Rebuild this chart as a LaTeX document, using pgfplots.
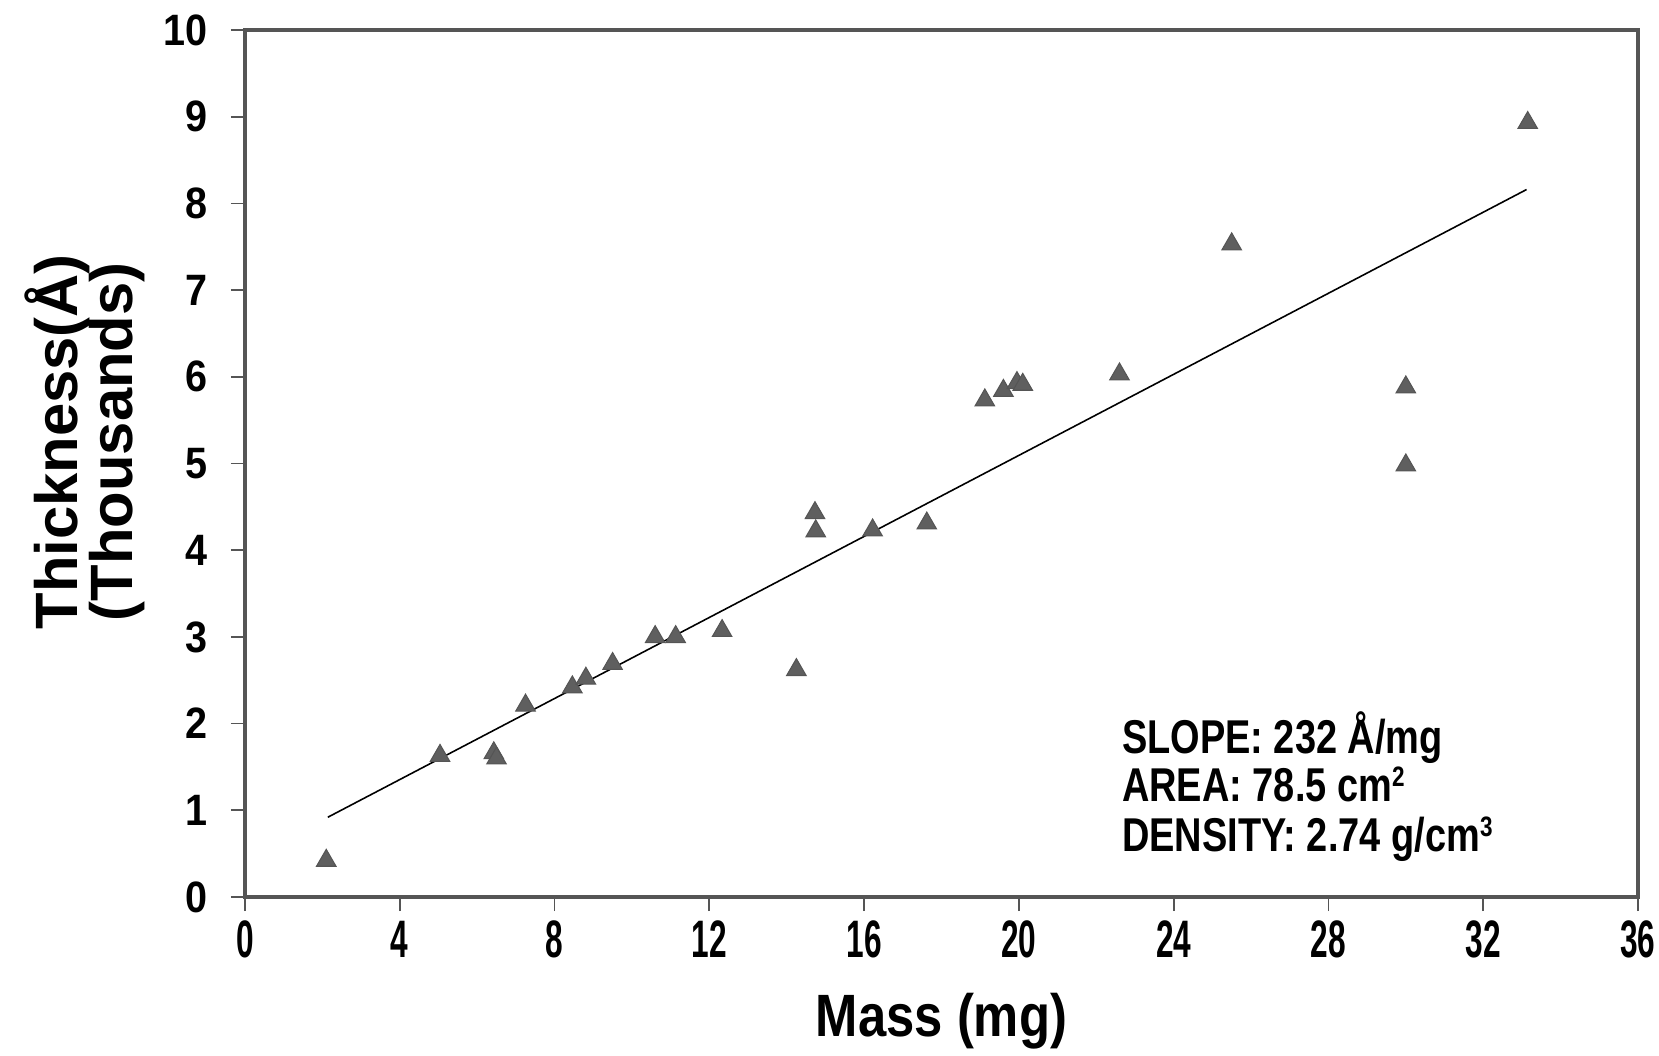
\documentclass[border=0pt]{standalone}
\usepackage{fontspec}
\setmainfont{Liberation Sans}
\newfontfamily\tickfont[FakeStretch=0.6]{Liberation Sans}
\newfontfamily\ytickfont[FakeStretch=0.9]{Liberation Sans}
\newfontfamily\labfont[FakeStretch=0.85]{Liberation Sans}
\newfontfamily\notefont[FakeStretch=0.8]{Liberation Sans}
\newcommand\supnum[1]{\raisebox{0.6ex}{\fontsize{8}{8}\selectfont #1}}
\usepackage{pgfplots}
\pgfplotsset{compat=1.18}
\definecolor{frame}{RGB}{85,85,85}
\definecolor{markfill}{RGB}{95,95,95}
\begin{document}
\begin{tikzpicture}
\useasboundingbox (-24.5mm,-15.8mm) rectangle (141.4mm,89.7mm);
\begin{axis}[
    at={(0,0)}, anchor=south west,
    scale only axis,
    width=139.3mm, height=86.7mm,
    xmin=0, xmax=36, ymin=0, ymax=10,
    xtick={0,4,...,36}, ytick={0,1,...,10},
    tick pos=left, tick align=outside,
    major tick length=1.4mm,
    axis line style={frame, line width=0.9pt},
    tick style={frame, line width=0.5pt},
    /pgf/number format/assume math mode=true,
    xticklabel style={font=\tickfont\bfseries\fontsize{15}{16}\selectfont, anchor=center, yshift=-2.8mm},
    yticklabel style={font=\ytickfont\bfseries\fontsize{12.5}{14}\selectfont, anchor=east, inner sep=0pt, xshift=-2.3mm},
    xlabel={Mass (mg)},
    xlabel style={font=\labfont\bfseries\fontsize{17}{19}\selectfont, at={(axis description cs:0.5,-0.143)}, anchor=center},
    ylabel={Thickness(Å)\\[-1pt](Thousands)},
    ylabel style={font=\bfseries\fontsize{17}{14}\selectfont, align=center, at={(axis description cs:-0.1150,0.525)}, anchor=center},
]
% measured points
\addplot[only marks, mark=triangle*, mark size=3.2pt,
    mark options={fill=markfill, draw=frame, line width=0.3pt}] coordinates {
    (2.1,0.42) (5.04,1.63) (6.43,1.66) (6.5,1.60) (7.25,2.21)
    (8.46,2.42) (8.81,2.52) (9.5,2.69) (10.6,3.0) (11.13,3.0)
    (12.33,3.07) (14.25,2.62) (14.73,4.43) (14.75,4.22) (16.22,4.23)
    (17.62,4.31) (19.12,5.73) (19.6,5.84) (19.95,5.93) (20.1,5.91)
    (22.6,6.03) (25.5,7.53) (30.0,5.88) (30.0,4.98) (33.15,8.93)
};
% fit line
\addplot[black, line width=0.45pt] coordinates {(2.14,0.92) (33.12,8.16)};
\node[anchor=base west, inner sep=0pt, font=\notefont\bfseries\fontsize{13.5}{14}\selectfont]
    at (axis cs:22.65,1.65) {SLOPE: 232 Å/mg};
\node[anchor=base west, inner sep=0pt, font=\notefont\bfseries\fontsize{13.5}{14}\selectfont]
    at (axis cs:22.65,1.10) {AREA: 78.5 cm\supnum{2}};
\node[anchor=base west, inner sep=0pt, font=\notefont\bfseries\fontsize{13.5}{14}\selectfont]
    at (axis cs:22.65,0.53) {DENSITY: 2.74 g/cm\supnum{3}};
\end{axis}
\end{tikzpicture}
\end{document}
